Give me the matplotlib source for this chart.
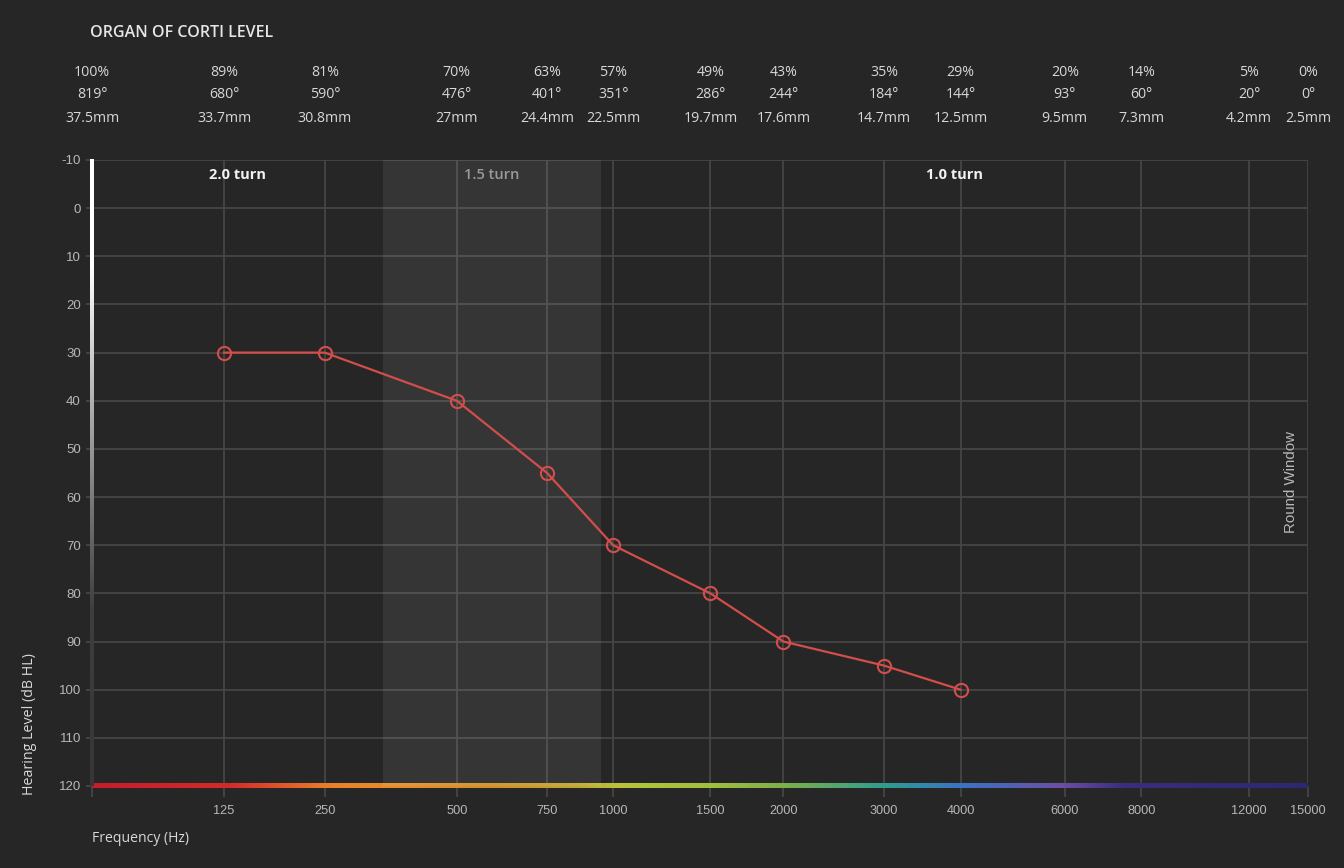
import matplotlib
matplotlib.use("Agg")
import matplotlib.pyplot as plt
import numpy as np
from matplotlib.colors import LinearSegmentedColormap
import matplotlib.transforms as mtransforms

# ---------------- data ----------------
freq_labels = ["125", "250", "500", "750", "1000", "1500", "2000", "3000", "4000",
               "6000", "8000", "12000", "15000"]
freq_mm = [33.7, 30.8, 27.0, 24.4, 22.5, 19.7, 17.6, 14.7, 12.5, 9.5, 7.3, 4.2, 2.5]

top_pct = ["100%", "89%", "81%", "70%", "63%", "57%", "49%", "43%", "35%", "29%",
           "20%", "14%", "5%", "0%"]
top_deg = ["819°", "680°", "590°", "476°", "401°", "351°", "286°", "244°", "184°",
           "144°", "93°", "60°", "20°", "0°"]
top_mm_lbl = ["37.5mm", "33.7mm", "30.8mm", "27mm", "24.4mm", "22.5mm", "19.7mm",
              "17.6mm", "14.7mm", "12.5mm", "9.5mm", "7.3mm", "4.2mm", "2.5mm"]
top_mm = [37.5, 33.7, 30.8, 27.0, 24.4, 22.5, 19.7, 17.6, 14.7, 12.5, 9.5, 7.3, 4.2, 2.5]

# audiogram points (mm position of frequency, dB HL)
data_mm = [33.7, 30.8, 27.0, 24.4, 22.5, 19.7, 17.6, 14.7, 12.5]
data_db = [30, 30, 40, 55, 70, 80, 90, 95, 100]

# turn regions (mm)
turn_names = ["2.0 turn", "1.5 turn", "1.0 turn"]
turn_bounds = [(37.5, 29.13), (29.13, 22.84), (22.84, 2.5)]

y_ticks = list(range(-10, 121, 10))

# ---------------- style ----------------
BG = "#262626"
GRID = "#464646"
TICK = "#b8b8b8"
TXT = "#d8d8d8"

fig = plt.figure(figsize=(13.44, 8.68), dpi=100, facecolor=BG)
ax = fig.add_axes([92/1344, 82/868, 1216/1344, 626/868])
ax.set_facecolor(BG)

for s in ax.spines.values():
    s.set_visible(False)

# grid
for v in y_ticks:
    ax.axhline(v, color=GRID, lw=1.3, zorder=1)
for v in [37.5] + freq_mm:
    ax.axvline(v, color=GRID, lw=1.3, zorder=1)

# rainbow bottom line (gradient strip)
cm_rain = LinearSegmentedColormap.from_list("rain", [
    (0.00, "#c41e2c"), (0.11, "#d42a2a"), (0.195, "#e8802a"), (0.24, "#e88c2c"),
    (0.33, "#d0902c"), (0.40, "#c0a832"), (0.43, "#b8c43a"), (0.51, "#a0c040"),
    (0.57, "#7cb04a"), (0.655, "#2e9c92"), (0.715, "#3a74c4"), (0.80, "#6c4ea4"),
    (0.85, "#3a2e7e"), (1.00, "#2c2870")])
grad_x = np.linspace(0, 1, 800).reshape(1, -1)
ax.imshow(grad_x, cmap=cm_rain, extent=[37.5, 2.5, 120.42, 119.58], aspect="auto",
          interpolation="bilinear", zorder=3, clip_on=False)

# shaded 1.5 turn band on top
ax.axvspan(turn_bounds[1][0], turn_bounds[1][1], color="white", alpha=0.07,
           lw=0, zorder=4)

# left gradient axis line
cm_left = LinearSegmentedColormap.from_list("left", [
    (0.0, "#ffffff"), (0.17, "#ffffff"), (0.45, "#9a9a9a"), (0.72, "#3e3e3e"),
    (1.0, "#363636")])
grad_y = np.linspace(0, 1, 600).reshape(-1, 1)
ax.imshow(grad_y, cmap=cm_left, extent=[37.55, 37.45, 120, -10], aspect="auto",
          interpolation="bilinear", zorder=5, clip_on=False, origin="upper")

ax.set_xlim(37.5, 2.5)
ax.set_ylim(120, -10)

ax.set_xticks([37.5] + freq_mm)
ax.set_xticklabels([""] + freq_labels)
ax.set_yticks(y_ticks)
ax.set_yticklabels([str(v) for v in y_ticks])
ax.tick_params(axis="x", colors=GRID, length=8, width=1.3, pad=6, labelcolor=TICK,
               labelsize=9.2)
ax.tick_params(axis="y", colors=GRID, length=4, width=1.3, pad=4, labelcolor=TICK,
               labelsize=9.5)
for lbl in ax.get_xticklabels() + ax.get_yticklabels():
    lbl.set_fontfamily("Liberation Sans")

# data line
ax.plot(data_mm, data_db, color="#d24e4a", lw=1.6, zorder=6)
ax.plot(data_mm, data_db, "o", ms=9.5, mfc="none", mec="#d24e4a", mew=1.5, zorder=7)

# turn labels
for name, (a, b) in zip(turn_names, turn_bounds):
    ax.text((a + b) / 2, -6.8, name, ha="center", va="center", fontsize=10.5,
            fontweight="bold" if name != "1.5 turn" else "semibold",
            family="Open Sans",
            color="#9a9a9a" if name == "1.5 turn" else "#f2f2f2", zorder=8)

# round window
ax.text(3.0, 56.9, "Round Window", rotation=90, ha="center", va="center",
        fontsize=10.8, color=TICK, family="Liberation Sans", zorder=8)

# top labels
trans = mtransforms.blended_transform_factory(ax.transData, fig.transFigure)
for xm, p, d, m in zip(top_mm, top_pct, top_deg, top_mm_lbl):
    for txt, ypx in zip([p, d, m], [73, 95, 118]):
        ax.text(xm, 1 - ypx / 868, txt, transform=trans, ha="center", va="center",
                fontsize=10.2, color=TXT, family="Open Sans", clip_on=False)

fig.text(90/1344, 1 - 33/868, "ORGAN OF CORTI LEVEL", ha="left", va="center",
         fontsize=11.5, fontweight="semibold", color="#e6e6e6", family="Open Sans")
fig.text(92/1344, 1 - 838/868, "Frequency (Hz)", ha="left", va="center",
         fontsize=10.1, color=TXT, family="Open Sans")
fig.text(30/1344, 1 - 795/868, "Hearing Level (dB HL)", rotation=90, ha="center",
         va="bottom", fontsize=10.3, color=TXT, family="Open Sans")

fig.savefig("out.png", dpi=100, facecolor=BG)
